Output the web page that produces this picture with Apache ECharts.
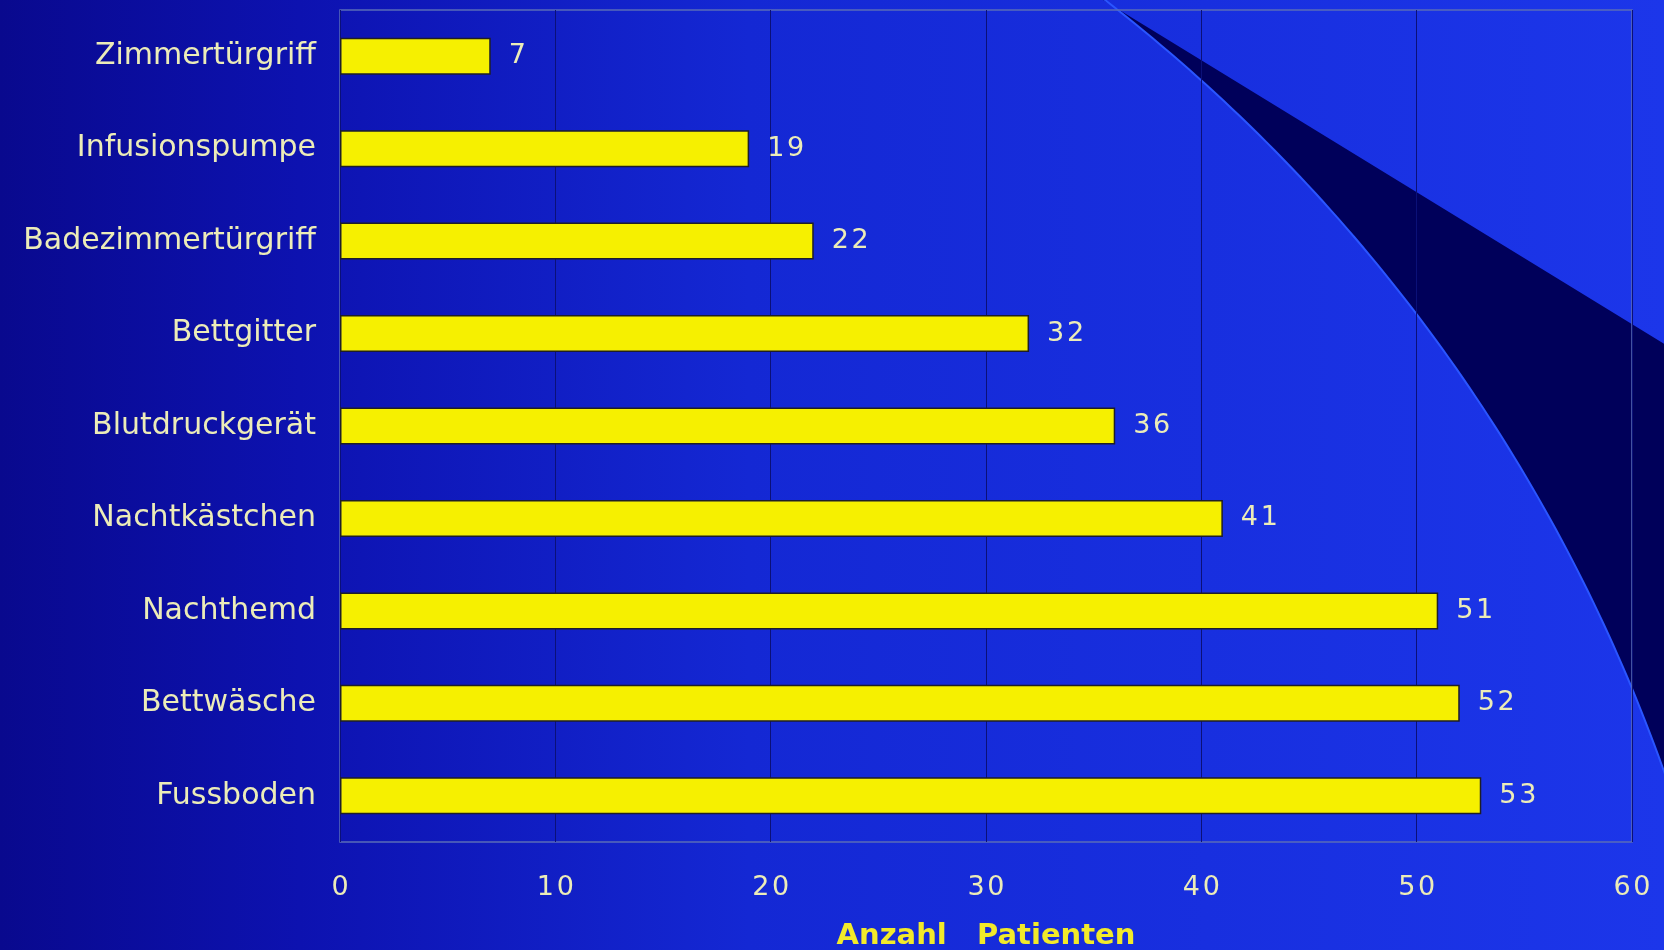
<!DOCTYPE html>
<html>
<head>
<meta charset="utf-8">
<style>
html,body{margin:0;padding:0;background:#0a0a94;}
#chart{width:1664px;height:950px;}
</style>
<script src="https://cdn.jsdelivr.net/npm/echarts@6/dist/echarts.min.js"></script>
</head>
<body>
<div id="chart"></div>
<script>
const categories = ['Zimmertürgriff','Infusionspumpe','Badezimmertürgriff','Bettgitter','Blutdruckgerät','Nachtkästchen','Nachthemd','Bettwäsche','Fussboden'];
const values = [7, 19, 22, 32, 36, 41, 51, 52, 53];
const xTicks = [0, 10, 20, 30, 40, 50, 60];
const axisTitle = 'Anzahl   Patienten';

const chart = echarts.init(document.getElementById('chart'), null, {renderer:'canvas'});

// decorative dark band of the slide background: a straight edge and a circular arc edge
const arcCx = 69, arcCy = 1339, arcR = 1693;
const innerEdge = [];
for (let deg = 15.4; deg <= 52.8; deg += 0.4) {
  const t = deg * Math.PI / 180;
  innerEdge.push([arcCx + arcR * Math.cos(t), arcCy - arcR * Math.sin(t)]);
}
const outerEdge = [[1090,-8],[1710,372]];
const bandPts = outerEdge.concat(innerEdge);

chart.setOption({
  backgroundColor: {
    type:'linear', x:0, y:0, x2:1, y2:0,
    colorStops:[
      {offset:0, color:'#09098e'},
      {offset:0.18, color:'#0d12b0'},
      {offset:0.45, color:'#1428d4'},
      {offset:1, color:'#1c36ea'}
    ]
  },
  animation:false,
  graphic:[{
    type:'polygon',
    z:-10,
    silent:true,
    shape:{points: bandPts},
    style:{fill:'#00005a'}
  },{
    type:'polyline',
    z:-9,
    silent:true,
    shape:{points: innerEdge},
    style:{stroke:'#2a55ff', lineWidth:2, fill:null}
  }],
  grid:{
    left:340, right:32, top:10, bottom:108,
    outerBoundsMode:'none',
    show:true, borderColor:'#5a6cb8', borderWidth:1.5, backgroundColor:'transparent'
  },
  xAxis:{
    type:'value', min:0, max:60, interval:10,
    axisLine:{show:false},
    axisTick:{show:false},
    splitLine:{show:true, lineStyle:{color:'#0b1078', width:1}},
    axisLabel:{
      color:'#ececb8', fontFamily:'DejaVu Sans', fontSize:27, margin:32,
      formatter: v => xTicks.includes(v) ? String(v).split('').join('\u200A') : ''
    },
    name: axisTitle,
    nameLocation:'middle',
    nameGap:80,
    nameTextStyle:{color:'#f2ea2a', fontFamily:'DejaVu Sans', fontWeight:'bold', fontSize:29}
  },
  yAxis:{
    type:'category', data:categories, inverse:true,
    axisLine:{show:false}, axisTick:{show:false}, splitLine:{show:false},
    axisLabel:{color:'#ececb8', fontFamily:'DejaVu Sans', fontSize:30, margin:24}
  },
  series:[{
    type:'bar',
    data:values,
    barWidth:37,
    itemStyle:{color:'#f6f000', borderColor:'#1e1e28', borderWidth:1.5},
    label:{
      show:true, position:'right', distance:18,
      color:'#ececb8', fontFamily:'DejaVu Sans', fontSize:27,
      formatter: p => String(p.value).split('').join('\u200A')
    }
  }]
});
</script>
</body>
</html>
